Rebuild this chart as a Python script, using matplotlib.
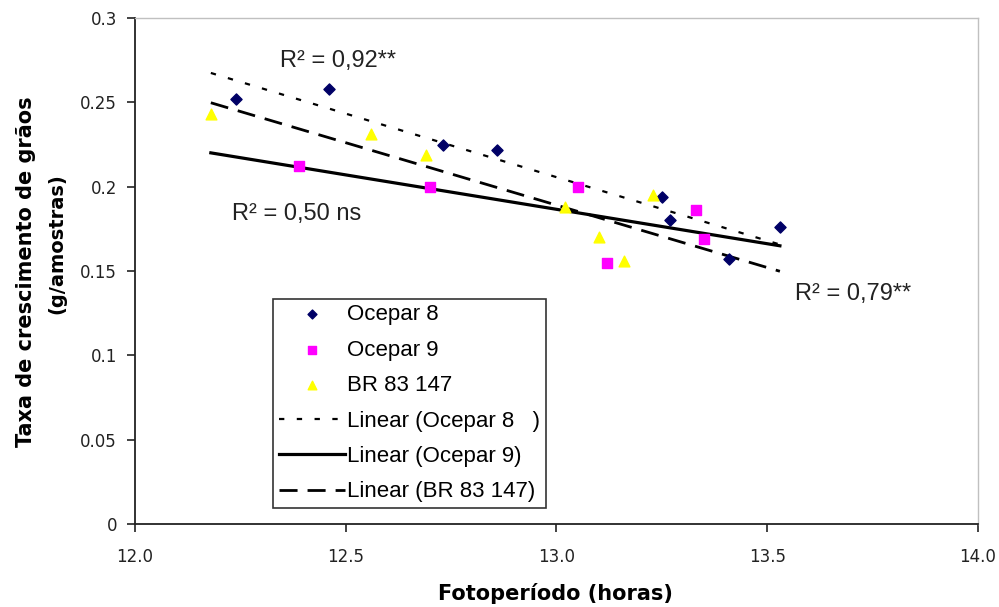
import matplotlib
matplotlib.use("Agg")
import matplotlib.pyplot as plt
import numpy as np

plt.rcParams['font.family'] = ['Liberation Sans', 'DejaVu Sans']

# Data
oc8_x = [12.24, 12.46, 12.73, 12.86, 13.25, 13.27, 13.41, 13.53]
oc8_y = [0.252, 0.258, 0.225, 0.222, 0.194, 0.180, 0.157, 0.176]
oc9_x = [12.39, 12.70, 13.05, 13.12, 13.33, 13.35]
oc9_y = [0.212, 0.200, 0.200, 0.155, 0.186, 0.169]
br_x = [12.18, 12.56, 12.69, 13.02, 13.10, 13.16, 13.23]
br_y = [0.243, 0.231, 0.219, 0.188, 0.170, 0.156, 0.195]

xticks = [12.0, 12.5, 13.0, 13.5, 14.0]
xticklabels = ["12.0", "12.5", "13.0", "13.5", "14.0"]
yticks = [0, 0.05, 0.1, 0.15, 0.2, 0.25, 0.3]
yticklabels = ["0", "0.05", "0.1", "0.15", "0.2", "0.25", "0.3"]

fig = plt.figure(figsize=(9.99, 6.07), dpi=100)
ax = fig.add_axes([0.1351, 0.1367, 0.979 - 0.1351, 0.9703 - 0.1367])

ax.scatter(oc8_x, oc8_y, marker='D', s=32, color='#000066', label='Ocepar 8', zorder=3)
ax.scatter(oc9_x, oc9_y, marker='s', s=42, color='#FF00FF', label='Ocepar 9', zorder=3)
ax.scatter(br_x, br_y, marker='^', s=60, color='#FFFF00', label='BR 83 147', zorder=3)

xall = oc8_x + oc9_x + br_x
xr = np.array([min(xall), max(xall)])

def trend(x, y):
    p = np.polyfit(x, y, 1)
    return np.polyval(p, xr)

ax.plot(xr, trend(oc8_x, oc8_y), color='black', lw=1.6, dashes=(2.4, 5.6),
        label='Linear (Ocepar 8   )')
ax.plot(xr, trend(oc9_x, oc9_y), color='black', lw=2.3, linestyle='-',
        label='Linear (Ocepar 9)')
ax.plot(xr, trend(br_x, br_y), color='black', lw=2.0, dashes=(6.5, 3.6),
        label='Linear (BR 83 147)')

ax.set_xlim(12.0, 14.0)
ax.set_ylim(0, 0.3)
ax.set_xticks(xticks)
ax.set_xticklabels(xticklabels)
ax.set_yticks(yticks)
ax.set_yticklabels(yticklabels)
ax.tick_params(axis='both', labelsize=12, colors='#222222', length=6, width=1.2)
ax.tick_params(axis='x', pad=11)
ax.tick_params(axis='y', pad=7)
for lab in ax.get_xticklabels() + ax.get_yticklabels():
    lab.set_family('DejaVu Sans')
for s in ['top', 'right']:
    ax.spines[s].set_color('#c0c0c0')
    ax.spines[s].set_linewidth(1.0)
for s in ['left', 'bottom']:
    ax.spines[s].set_linewidth(1.3)
    ax.spines[s].set_color('#222222')

ax.text(12.344, 0.271, "R² = 0,92**", fontsize=17, color='#222222', va='baseline')
ax.text(12.230, 0.180, "R² = 0,50 ns", fontsize=17, color='#222222', va='baseline')
ax.text(13.566, 0.1328, "R² = 0,79**", fontsize=17, color='#222222', va='baseline')

fig.text(555 / 999, 1 - 594 / 607, "Fotoperíodo (horas)", fontsize=15,
         fontweight='bold', family='DejaVu Sans', ha='center', va='center')
fig.text(26 / 999, 1 - 272 / 607, "Taxa de crescimento de grãos", fontsize=15,
         fontweight='bold', family='DejaVu Sans', ha='center', va='center', rotation=90)
fig.text(57 / 999, 1 - 244 / 607, "(g/amostras)", fontsize=14,
         fontweight='bold', family='DejaVu Sans', ha='center', va='center', rotation=90)

leg = ax.legend(loc='lower left', bbox_to_anchor=(0.1637, 0.0316), fontsize=16,
                frameon=True, fancybox=False, edgecolor='black', handlelength=3.0,
                handletextpad=0.1, labelspacing=0.65, borderpad=0.25, borderaxespad=0,
                markerscale=0.8)
leg.get_frame().set_linewidth(1.2)

fig.savefig("out.png", dpi=100)
